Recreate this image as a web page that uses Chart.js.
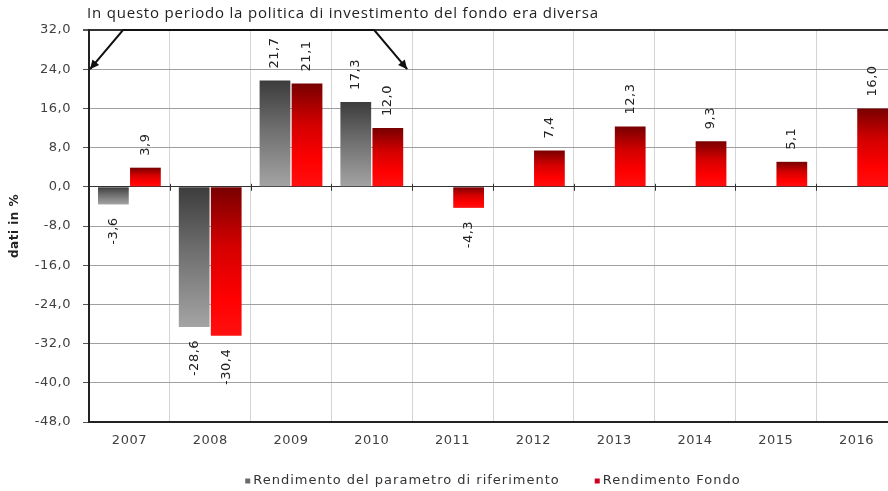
<!DOCTYPE html>
<html>
<head>
<meta charset="utf-8">
<script src="https://cdn.jsdelivr.net/npm/chart.js@4"></script>
<style>
  html,body{margin:0;padding:0;background:#fff;overflow:hidden;}
  #wrap{width:888px;height:491px;overflow:hidden;}
</style>
</head>
<body>
<div id="wrap"><canvas id="c" width="897" height="491"></canvas></div>
<script>
const years=['2007','2008','2009','2010','2011','2012','2013','2014','2015','2016'];
const benchmark=[-3.6,-28.6,21.7,17.3,null,null,null,null,null,null];
const fondo=[3.9,-30.4,21.1,12.0,-4.3,7.4,12.3,9.3,5.1,16.0];
const seriesNames=['Rendimento del parametro di riferimento','Rendimento Fondo'];
const yMin=-48,yMax=32,yStep=8;
const note='In questo periodo la politica di investimento del fondo era diversa';

const FONT='"DejaVu Sans", Arial';
const fmt=v=>v.toFixed(1).replace('.',',');

function barGrad(stops,fallback){
  return function(c){
    const ch=c.chart;if(!ch.chartArea)return fallback;
    const v=c.dataset.data[c.dataIndex];if(v==null)return fallback;
    const y=ch.scales.y;
    const t=y.getPixelForValue(Math.max(v,0)),b=y.getPixelForValue(Math.min(v,0));
    const g=ch.ctx.createLinearGradient(0,t,0,b+0.01);
    stops.forEach(s=>g.addColorStop(s[0],s[1]));
    return g;
  };
}

// wider text spacing, like the original
const spacing={id:'spacing',
  beforeLayout(ch){ch.ctx.letterSpacing='0.5px';},
  beforeDraw(ch){ch.ctx.letterSpacing='0.5px';}};

// rotated value labels above / below each bar
const valueLabels={id:'valueLabels',afterDatasetsDraw(ch){
  const ctx=ch.ctx;
  ch.data.datasets.forEach((ds,i)=>{
    ch.getDatasetMeta(i).data.forEach((el,j)=>{
      const v=ds.data[j];if(v==null)return;
      ctx.save();ctx.font='13px '+FONT;ctx.letterSpacing='0.5px';ctx.fillStyle='#222';ctx.textBaseline='middle';
      if(v>=0){ctx.translate(el.x,el.y-12);ctx.rotate(-Math.PI/2);ctx.textAlign='left';}
      else{ctx.translate(el.x,el.y+13);ctx.rotate(-Math.PI/2);ctx.textAlign='right';}
      ctx.fillText(fmt(v),0,0);ctx.restore();
    });
  });
}};

// zero line ticks, bracket annotation and legend
const extras={id:'extras',afterDraw(ch){
  const ctx=ch.ctx,a=ch.chartArea,x=ch.scales.x,y=ch.scales.y;
  const cw=x.getPixelForValue(1)-x.getPixelForValue(0);
  const y0=y.getPixelForValue(0);
  ctx.save();
  ctx.strokeStyle='#333';ctx.lineWidth=1;
  for(let i=1;i<years.length;i++){const bx=Math.round(x.getPixelForValue(i)-cw/2)+0.5;ctx.beginPath();ctx.moveTo(bx,y0-3);ctx.lineTo(bx,y0+4);ctx.stroke();}
  // bracket
  const tipY=y.getPixelForValue(24),topY=y.getPixelForValue(yMax);
  const lx=a.left+1,rx=x.getPixelForValue(3)+cw/2-5,d=33;
  ctx.strokeStyle='#111';ctx.fillStyle='#111';ctx.lineWidth=2;
  ctx.beginPath();ctx.moveTo(lx,tipY);ctx.lineTo(lx+d,topY);ctx.lineTo(rx-d,topY);ctx.lineTo(rx,tipY);ctx.stroke();
  function arrow(px,py,fx,fy){const ang=Math.atan2(py-fy,px-fx),L=10,W=0.45;
    ctx.beginPath();ctx.moveTo(px,py);ctx.lineTo(px-L*Math.cos(ang-W),py-L*Math.sin(ang-W));ctx.lineTo(px-L*Math.cos(ang+W),py-L*Math.sin(ang+W));ctx.closePath();ctx.fill();}
  arrow(lx,tipY,lx+d,topY);arrow(rx,tipY,rx-d,topY);
  ctx.font='15px "Open Sans"';ctx.letterSpacing='0.8px';ctx.fillStyle='#222';ctx.textAlign='left';ctx.textBaseline='middle';
  ctx.fillText(note,a.left-2,14);
  // legend
  const cols=['#6b6b6b','#d0001a'];
  ctx.font='13px '+FONT;ctx.letterSpacing='1px';ctx.textBaseline='middle';
  const gap=35,ms=5,mg=3;let tot=0;
  seriesNames.forEach((n,i)=>{tot+=ms+mg+ctx.measureText(n).width+(i?0:gap);});
  let lx2=(a.left+a.right)/2-tot/2;const ly=481;
  seriesNames.forEach((n,i)=>{ctx.fillStyle=cols[i];ctx.fillRect(lx2,ly-ms/2,ms,ms);lx2+=ms+mg;ctx.fillStyle='#333';ctx.fillText(n,lx2,ly);lx2+=ctx.measureText(n).width+gap;});
  ctx.restore();
}};

new Chart(document.getElementById('c'),{
  type:'bar',
  data:{labels:years,datasets:[
    {label:seriesNames[0],data:benchmark,backgroundColor:barGrad([[0,'#3c3c3c'],[0.45,'#6e6e6e'],[1,'#a4a4a4']],'#777'),categoryPercentage:0.793,barPercentage:0.96},
    {label:seriesNames[1],data:fondo,backgroundColor:barGrad([[0,'#780000'],[0.4,'#d40000'],[0.75,'#ff0000'],[1,'#ff1010']],'#e00'),categoryPercentage:0.793,barPercentage:0.96}
  ]},
  options:{
    responsive:false,animation:false,
    layout:{padding:{top:30,left:0,right:0,bottom:0}},
    plugins:{legend:{display:false},tooltip:{enabled:false}},
    scales:{
      x:{grid:{offset:true,color:'#d4d4d4',drawTicks:false},border:{display:true,color:'#222',width:2},
        ticks:{color:'#404040',font:{family:FONT,size:13},padding:11,maxRotation:0},
        afterFit:s=>{s.height=69;}},
      y:{min:yMin,max:yMax,ticks:{stepSize:yStep,color:'#404040',font:{family:FONT,size:13},padding:12,callback:v=>fmt(v)},
        grid:{color:c=>(c.tick&&(c.tick.value===0||c.tick.value===yMax))?'#333':'#a0a0a0',lineWidth:c=>(c.tick&&c.tick.value===yMax)?2:1,tickLength:6,tickColor:'#555'},
        border:{display:true,color:'#222',width:2},
        title:{display:true,text:'dati in %',color:'#222',font:{family:FONT,size:12,weight:'bold'},padding:{top:8,bottom:0}},
        afterFit:s=>{s.width=89;}}
    }
  },
  plugins:[spacing,valueLabels,extras]
});
</script>
</body>
</html>
